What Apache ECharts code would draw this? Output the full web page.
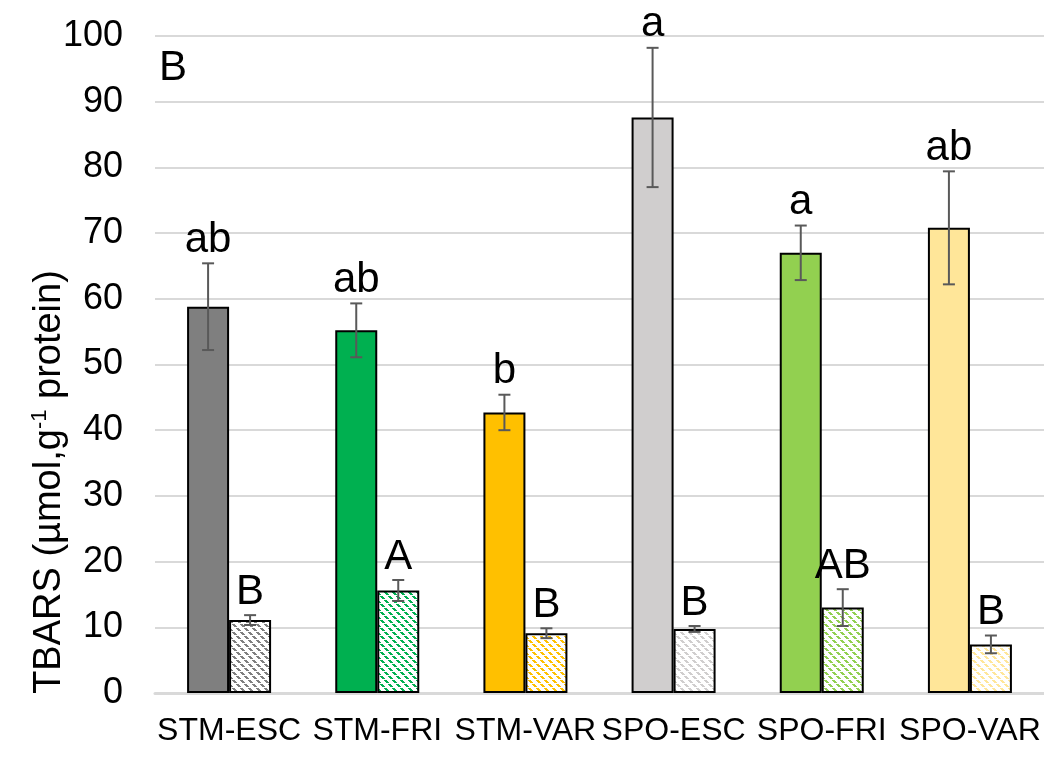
<!DOCTYPE html>
<html>
<head>
<meta charset="utf-8">
<script src="https://cdn.jsdelivr.net/npm/echarts@6/dist/echarts.min.js"></script>
<style>
html,body{margin:0;padding:0;background:#fff;}
#chart{width:1044px;height:760px;}
</style>
</head>
<body>
<div id="chart"></div>
<script>
// ---- data ----
var categories = ['STM-ESC', 'STM-FRI', 'STM-VAR', 'SPO-ESC', 'SPO-FRI', 'SPO-VAR'];
var solidValues = [58.8, 55.2, 42.7, 87.6, 67.0, 70.8];
var solidErrors = [6.6, 4.1, 2.7, 10.6, 4.15, 8.6];
var solidLetters = ['ab', 'ab', 'b', 'a', 'a', 'ab'];
var hatchValues = [11.1, 15.6, 9.1, 9.75, 13.0, 7.4];
var hatchErrors = [0.75, 1.6, 0.75, 0.45, 2.8, 1.35];
var hatchLetters = ['B', 'A', 'B', 'B', 'AB', 'B'];
var barColors = ['#7f7f7f', '#00b050', '#ffc000', '#d0cece', '#92d050', '#ffe699'];
var yTicks = [0, 10, 20, 30, 40, 50, 60, 70, 80, 90, 100];

var FONT = '"Liberation Sans", Arial, sans-serif';
var BAR_W = 42;

function hexToRgb(h) {
  return [parseInt(h.substr(1, 2), 16), parseInt(h.substr(3, 2), 16), parseInt(h.substr(5, 2), 16)];
}
function hatchPattern(color) {
  var s = 8;
  var c = document.createElement('canvas');
  c.width = s; c.height = s;
  var ctx = c.getContext('2d');
  var img = ctx.createImageData(s, s);
  var rgb = hexToRgb(color);
  for (var y = 0; y < s; y++) {
    for (var x = 0; x < s; x++) {
      var d = ((x - y) % s + s) % s;
      var on = (d === 0 || d === 1 || d === 2) && (y % 4 !== 3);
      var k = (y * s + x) * 4;
      if (on) { img.data[k] = rgb[0]; img.data[k + 1] = rgb[1]; img.data[k + 2] = rgb[2]; }
      else { img.data[k] = 255; img.data[k + 1] = 255; img.data[k + 2] = 255; }
      img.data[k + 3] = 255;
    }
  }
  ctx.putImageData(img, 0, 0);
  return { image: c, repeat: 'repeat' };
}

var solidData = solidValues.map(function (v, i) {
  return { value: v, itemStyle: { color: barColors[i] } };
});
var hatchData = hatchValues.map(function (v, i) {
  return { value: v, itemStyle: { color: hatchPattern(barColors[i]) } };
});

var errData = [];
for (var i = 0; i < categories.length; i++) {
  errData.push([i, solidValues[i], solidErrors[i], -1, solidLetters[i]]);
  errData.push([i, hatchValues[i], hatchErrors[i], 1, hatchLetters[i]]);
}

function renderErr(params, api) {
  var ci = api.value(0), v = api.value(1), e = api.value(2), side = api.value(3);
  var label = errData[params.dataIndex][4];
  var top = api.coord([ci, v + e]);
  var bot = api.coord([ci, v - e]);
  var x = top[0] + side * BAR_W / 2;
  var cap = 6;
  var st = { stroke: '#595959', lineWidth: 2 };
  return {
    type: 'group',
    children: [
      { type: 'line', shape: { x1: x, y1: top[1], x2: x, y2: bot[1] }, style: st },
      { type: 'line', shape: { x1: x - cap, y1: top[1], x2: x + cap, y2: top[1] }, style: st },
      { type: 'line', shape: { x1: x - cap, y1: bot[1], x2: x + cap, y2: bot[1] }, style: st },
      { type: 'text', x: x, y: top[1] - 23,
        style: { text: label, fill: '#000', font: '42px ' + FONT, align: 'center', verticalAlign: 'middle' } }
    ]
  };
}

var chart = echarts.init(document.getElementById('chart'), null, { renderer: 'canvas' });
chart.setOption({
  animation: false,
  backgroundColor: '#ffffff',
  grid: { left: 155, right: 0, top: 36, bottom: 67, containLabel: false },
  graphic: [
    {
      type: 'text', left: 159, top: 47,
      style: { text: 'B', fill: '#000', font: '42px ' + FONT }
    },
    {
      type: 'text', x: 50, y: 482, rotation: Math.PI / 2,
      style: {
        text: 'TBARS (µmol,g{sup|-1} protein)',
        fill: '#000', font: '38px ' + FONT, align: 'center', verticalAlign: 'middle',
        lineHeight: 42,
        rich: { sup: { fontSize: 22, fontFamily: FONT, fill: '#000', verticalAlign: 'top', lineHeight: 26 } }
      }
    }
  ],
  xAxis: {
    type: 'category',
    data: categories,
    axisTick: { show: false },
    axisLine: { lineStyle: { color: '#d9d9d9', width: 3 } },
    axisLabel: { color: '#000', fontSize: 32, fontFamily: FONT, margin: 22, interval: 0 }
  },
  yAxis: {
    type: 'value',
    min: 0, max: 100, interval: 10,
    axisLine: { show: false },
    axisTick: { show: false },
    splitLine: { lineStyle: { color: '#d9d9d9', width: 2 } },
    axisLabel: {
      color: '#000', fontSize: 36, fontFamily: FONT, margin: 32,
      formatter: function (v) { return yTicks.indexOf(v) >= 0 ? String(v) : ''; }
    }
  },
  series: [
    {
      type: 'bar', data: solidData, barWidth: BAR_W, barGap: '0%',
      itemStyle: { borderColor: '#000', borderWidth: 2 }
    },
    {
      type: 'bar', data: hatchData, barWidth: BAR_W, barGap: '0%',
      itemStyle: { borderColor: '#000', borderWidth: 2 }
    },
    {
      type: 'custom', data: errData, renderItem: renderErr, z: 10,
      encode: { x: 0, y: 1 }
    }
  ]
});
</script>
</body>
</html>
